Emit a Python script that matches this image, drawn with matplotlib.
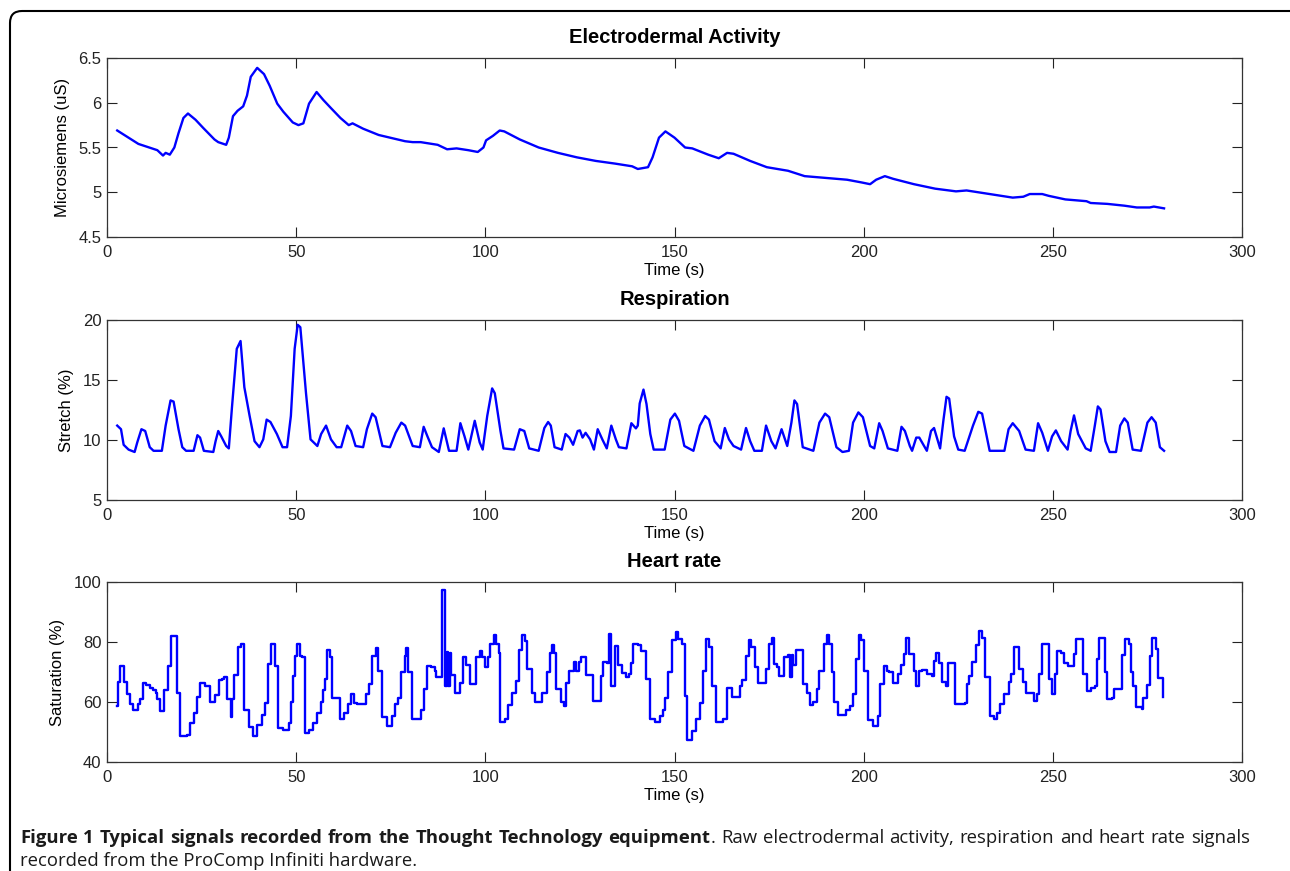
import matplotlib
matplotlib.use("Agg")
import matplotlib.pyplot as plt
from matplotlib.patches import FancyBboxPatch
from matplotlib.transforms import IdentityTransform

# ---- data ----
# electrodermal activity (uS)
eda_t = [2.7, 8.3, 13.3, 14.8, 15.5, 16.6, 17.8, 18.9, 20.2, 21.4, 23.4, 25.4, 28.4, 29.4,
         31.5, 32.2, 33.3, 34.5, 36.0, 37.0, 38.0, 39.7, 41.5, 43.0, 45.0, 46.6, 49.1, 50.6,
         51.9, 53.4, 55.4, 57.2, 59.2, 61.7, 63.9, 64.9, 67.7, 71.8, 74.8, 78.8, 80.8, 82.9,
         87.4, 89.9, 92.4, 95.5, 98.0, 99.5, 100.2, 102.0, 103.8, 105.0, 109.1, 114.1, 119.2,
         124.2, 129.2, 134.3, 138.8, 140.3, 143.0, 144.2, 145.9, 147.6, 150.0, 152.8, 154.7,
         158.9, 161.7, 163.9, 165.6, 170.0, 174.4, 180.0, 184.4, 190.0, 195.6, 199.4, 201.7,
         203.3, 205.6, 207.8, 213.3, 218.9, 224.4, 227.2, 233.3, 239.4, 242.2, 243.9, 247.2,
         248.9, 253.3, 258.9, 260.0, 264.4, 268.9, 272.2, 275.6, 276.7, 279.4]
eda_v = [5.69, 5.54, 5.47, 5.41, 5.44, 5.42, 5.50, 5.66, 5.83, 5.88, 5.81, 5.72, 5.59, 5.56,
         5.53, 5.61, 5.85, 5.91, 5.96, 6.08, 6.29, 6.39, 6.32, 6.19, 5.99, 5.90, 5.78, 5.75,
         5.77, 5.99, 6.12, 6.03, 5.94, 5.83, 5.75, 5.77, 5.71, 5.64, 5.61, 5.57, 5.56, 5.56,
         5.53, 5.48, 5.49, 5.47, 5.45, 5.50, 5.58, 5.63, 5.69, 5.68, 5.59, 5.50, 5.44,
         5.39, 5.35, 5.32, 5.29, 5.26, 5.28, 5.39, 5.61, 5.68, 5.61, 5.50, 5.49,
         5.42, 5.38, 5.44, 5.43, 5.35, 5.28, 5.24, 5.18, 5.16, 5.14, 5.11, 5.09,
         5.14, 5.18, 5.15, 5.09, 5.04, 5.01, 5.02, 4.98, 4.94, 4.95, 4.98, 4.98,
         4.96, 4.92, 4.90, 4.88, 4.87, 4.85, 4.83, 4.83, 4.84, 4.82]

# respiration (% stretch)
resp_t = [2.7, 3.7, 4.4, 5.7, 7.3, 8.0, 9.1, 10.1, 11.3, 12.3, 14.5, 15.5, 16.8, 17.6, 18.9,
          19.9, 20.9, 22.9, 23.9, 24.6, 25.6, 28.1, 28.7, 29.4, 30.2, 31.5, 32.2, 33.0, 34.3,
          35.3, 36.3, 37.7, 39.0, 40.3, 41.3, 42.2, 43.2, 44.9, 46.4, 47.6, 48.6, 49.6, 50.4,
          51.1, 52.6, 53.8, 55.6, 56.6, 57.9, 59.2, 60.7, 61.9, 63.5, 64.5, 65.7, 67.7, 68.7,
          70.1, 71.0, 72.8, 74.8, 76.3, 77.8, 78.8, 80.8, 82.7, 83.7, 84.7, 85.9, 87.7, 89.0,
          89.7, 90.4, 92.4, 93.4, 94.5, 95.5, 96.5, 97.2, 98.5, 99.3, 100.5, 101.8, 102.5,
          104.0, 104.8, 107.6, 109.1, 110.3, 111.6, 114.1, 115.6, 116.6, 117.3, 118.3, 120.2,
          121.2, 122.2, 123.2, 124.4, 125.0, 125.7, 126.5, 127.7, 128.7, 129.7, 131.0, 132.1,
          133.3, 134.5, 135.3, 137.3, 138.6, 139.8, 140.3, 140.8, 141.8, 142.6, 143.6, 144.5,
          147.4, 148.9, 150.1, 151.2, 152.6, 155.0, 156.7, 158.1, 159.1, 160.6, 162.2, 163.3,
          164.4, 165.6, 167.6, 168.9, 170.0, 171.1, 173.1, 174.2, 175.6, 176.7, 178.3, 179.8,
          180.9, 181.7, 182.4, 183.9, 186.7, 188.3, 189.8, 190.9, 192.8, 194.4, 196.1, 197.2,
          198.6, 199.8, 201.7, 202.8, 204.1, 205.0, 206.4, 208.9, 210.0, 210.9, 212.2, 212.8,
          213.9, 214.7, 216.7, 217.8, 218.6, 220.2, 221.1, 221.9, 222.6, 223.9, 225.0, 226.7,
          228.9, 230.3, 231.3, 233.3, 237.2, 238.3, 239.4, 241.1, 242.8, 245.0, 246.1, 247.2,
          248.7, 249.8, 250.8, 252.2, 253.9, 254.7, 255.6, 256.7, 258.7, 260.0, 261.1, 261.9,
          262.6, 263.9, 265.0, 266.7, 267.8, 268.9, 269.8, 271.1, 273.3, 275.0, 276.1, 277.2,
          278.3, 279.4]
resp_v = [11.2, 10.9, 9.6, 9.2, 9.0, 9.8, 10.9, 10.75, 9.4, 9.1, 9.1, 11.2, 13.3, 13.2, 10.9,
          9.4, 9.1, 9.1, 10.4, 10.2, 9.1, 9.0, 9.9, 10.75, 10.3, 9.5, 9.3, 12.6, 17.6,
          18.25, 14.4, 12.0, 9.9, 9.4, 10.05, 11.7, 11.5, 10.5, 9.4, 9.4, 12.0, 17.6, 19.6,
          19.4, 13.9, 10.05, 9.5, 10.5, 11.2, 10.05, 9.4, 9.4, 11.2, 10.75, 9.5, 9.4, 10.9,
          12.2, 11.9, 9.5, 9.4, 10.6, 11.45, 11.2, 9.5, 9.4, 11.1, 10.3, 9.4, 9.0, 10.97,
          10.05, 9.1, 9.1, 11.4, 10.3, 9.2, 10.6, 11.6, 9.8, 9.2, 12.0, 14.3, 13.9,
          10.75, 9.3, 9.2, 10.9, 10.75, 9.3, 9.1, 11.0, 11.5, 11.2, 9.4, 9.2,
          10.5, 10.2, 9.6, 10.75, 10.8, 10.2, 10.6, 10.05, 9.2, 10.9, 10.0, 9.3,
          11.2, 10.05, 9.4, 9.3, 11.4, 10.97, 11.2, 13.05, 14.2, 13.0, 10.5, 9.2,
          9.2, 11.7, 12.2, 11.6, 9.5, 9.1, 11.2, 12.0, 11.7, 9.9, 9.3, 11.0,
          10.05, 9.5, 9.2, 11.0, 9.9, 9.1, 9.1, 11.2, 9.9, 9.3, 10.9, 9.5,
          11.45, 13.3, 13.0, 9.4, 9.1, 11.45, 12.2, 11.9, 9.4, 9.0, 9.1, 11.45,
          12.3, 11.9, 9.5, 9.3, 11.4, 10.75, 9.3, 9.1, 11.1, 10.75, 9.5, 9.1,
          10.2, 10.2, 9.1, 10.75, 11.0, 9.3, 11.7, 13.6, 13.45, 10.3, 9.2, 9.1,
          11.2, 12.35, 12.2, 9.1, 9.1, 10.9, 11.4, 10.75, 9.2, 9.1, 11.4, 10.6,
          9.1, 10.3, 10.8, 9.9, 9.2, 10.75, 12.05, 10.5, 9.3, 9.1, 11.2, 12.8,
          12.55, 9.9, 9.0, 9.0, 11.2, 11.8, 11.45, 9.2, 9.1, 11.45, 11.9, 11.45,
          9.4, 9.1]

# heart rate (step levels, start time of each level)
hr_t = [2.7, 2.9, 3.4, 4.5, 5.2, 6.2, 6.8, 8.1, 8.6, 9.5, 10.3, 11.3, 12.1, 12.9, 13.3,
        14.1, 15.1, 16.1, 16.8, 18.5, 19.4, 21.2, 21.9, 22.9, 23.9, 24.6, 26.0, 27.1, 28.6,
        29.7, 30.4, 31.0, 31.7, 32.7, 33.1, 33.5, 34.5, 35.3, 36.3, 37.5, 38.5, 39.7, 41.0,
        41.8, 42.5, 43.3, 44.4, 45.3, 46.6, 48.1, 48.6, 49.1, 49.8, 50.1, 51.1, 51.6, 52.4,
        53.4, 54.4, 55.4, 56.5, 57.0, 57.5, 58.2, 59.0, 59.5, 61.7, 62.7, 63.7, 64.4, 65.2,
        66.2, 68.4, 69.3, 70.0, 71.0, 71.5, 72.8, 74.0, 75.3, 76.1, 77.0, 77.8, 78.8, 79.1,
        79.6, 80.6, 82.9, 83.9, 84.7, 85.7, 86.7, 86.9, 88.6, 89.4, 89.8, 90.2, 90.6, 91.0,
        92.1, 93.4, 94.0, 95.0, 96.0, 97.5, 98.5, 99.0, 100.0, 100.8, 101.2, 102.3, 102.8,
        103.5, 103.8, 105.2, 106.0, 107.1, 108.1, 108.9, 109.6, 110.4, 110.9, 112.4, 113.1,
        115.1, 116.4, 117.1, 117.6, 118.1, 118.6, 119.9, 120.7, 121.4, 122.2, 123.4, 123.9,
        124.7, 125.4, 126.7, 128.5, 130.5, 131.0, 132.1, 132.6, 133.2, 134.2, 135.0, 136.1,
        137.3, 138.1, 138.6, 139.1, 140.3, 141.1, 142.5, 143.5, 144.9, 146.2, 147.0, 147.4,
        148.4, 149.4, 150.4, 150.9, 151.9, 152.8, 153.3, 154.7, 155.6, 156.7, 157.6, 158.3,
        159.1, 160.0, 160.9, 162.8, 163.9, 165.3, 167.2, 167.8, 168.9, 169.7, 170.2, 171.3,
        172.0, 174.2, 175.0, 175.8, 176.4, 177.2, 177.6, 178.9, 180.0, 180.6, 181.1, 181.4,
        182.2, 183.3, 183.9, 185.0, 185.9, 186.7, 187.6, 188.3, 189.4, 190.2, 190.9, 191.7,
        192.2, 193.1, 195.3, 196.4, 197.2, 198.0, 198.7, 199.4, 200.0, 201.1, 202.4, 203.9,
        204.4, 205.3, 206.1, 206.7, 207.8, 209.1, 209.8, 210.6, 211.3, 212.0, 213.3, 213.9,
        214.7, 215.3, 216.7, 218.0, 218.7, 219.2, 220.0, 220.6, 221.7, 222.2, 224.2, 226.7,
        227.2, 227.8, 228.7, 229.8, 230.6, 231.3, 232.0, 233.3, 234.4, 235.3, 236.1, 237.2,
        238.3, 238.9, 239.8, 241.1, 242.0, 242.8, 245.0, 245.8, 246.4, 247.2, 248.9, 249.8,
        250.6, 251.1, 252.2, 253.0, 253.9, 255.6, 256.1, 258.1, 258.9, 260.0, 261.1, 261.7,
        262.2, 263.9, 264.4, 265.6, 266.1, 268.3, 269.1, 270.0, 270.6, 271.3, 272.0, 273.6,
        273.9, 274.8, 275.6, 276.1, 277.2, 277.4, 277.8, 279.0]
hr_v = [58.7, 66.7, 71.9, 66.7, 62.6, 59.2, 57.5, 59.5, 60.9, 66.3, 65.6, 64.8, 63.9, 63.1, 60.9,
        57.0, 64.0, 71.9, 81.9, 62.9, 48.8, 49.0, 53.0, 56.4, 61.8, 66.5, 65.4, 60.0, 62.2,
        67.3, 67.6, 68.4, 60.9, 55.0, 60.9, 69.0, 78.3, 79.4, 57.2, 51.7, 48.8, 52.2, 55.8,
        59.8, 72.7, 79.4, 72.1, 51.3, 50.8, 53.0, 60.0, 68.8, 75.5, 79.4, 75.5, 74.9, 49.7,
        50.8, 53.0, 56.4, 60.0, 64.0, 67.6, 77.5, 75.0, 61.5, 54.2, 56.4, 59.2, 62.6, 59.8,
        59.2, 62.6, 66.0, 75.5, 78.0, 70.4, 55.0, 52.1, 55.3, 59.2, 61.2, 70.1, 75.5, 78.0,
        69.9, 54.4, 57.5, 64.3, 72.1, 71.6, 70.4, 68.5, 97.4, 65.4, 76.6, 65.4, 76.4, 69.0,
        62.9, 66.3, 75.0, 72.4, 66.0, 75.0, 76.9, 75.0, 71.6, 75.0, 79.4, 82.5, 79.4,
        76.4, 53.4, 54.2, 58.9, 63.1, 67.1, 77.5, 82.2, 80.4, 71.0, 62.9, 60.0,
        62.9, 69.9, 76.4, 78.9, 76.4, 64.3, 60.0, 58.7, 66.5, 70.4, 73.3, 70.4,
        73.3, 75.0, 69.1, 60.3, 68.8, 73.5, 73.0, 82.8, 65.4, 78.7, 72.4, 69.7,
        68.2, 69.3, 73.0, 79.4, 78.9, 76.9, 67.6, 54.2, 53.4, 55.3, 57.5, 61.5,
        69.9, 80.6, 83.4, 81.1, 79.4, 62.0, 47.4, 50.2, 54.4, 59.8, 70.4, 81.1,
        78.3, 65.4, 53.3, 54.2, 64.8, 61.7, 65.4, 67.4, 75.3, 80.6, 78.3, 71.6,
        66.3, 71.0, 79.4, 81.3, 72.7, 71.6, 68.8, 75.0, 75.8, 68.2, 75.8, 72.4,
        77.5, 77.2, 66.0, 63.1, 58.9, 60.0, 64.3, 70.4, 79.4, 82.5, 79.4, 69.9,
        60.0, 55.8, 57.5, 58.7, 62.6, 74.4, 82.5, 80.6, 70.4, 53.9, 51.9, 55.5,
        66.0, 72.1, 70.4, 69.9, 66.5, 69.3, 72.4, 76.1, 81.3, 76.1, 70.4, 65.4,
        70.4, 70.7, 69.3, 68.8, 73.8, 76.4, 73.0, 66.7, 65.4, 73.0, 59.2, 59.8,
        66.0, 68.8, 73.3, 78.9, 83.6, 81.3, 68.2, 55.3, 54.2, 56.4, 59.2, 62.6,
        66.7, 69.3, 78.3, 71.0, 66.7, 63.1, 60.3, 62.6, 69.3, 79.4, 67.6, 62.6,
        69.3, 76.9, 76.4, 73.0, 71.9, 76.1, 81.1, 69.3, 63.7, 64.8, 65.4, 74.4,
        81.3, 69.9, 61.1, 61.5, 64.3, 75.7, 81.1, 79.4, 69.9, 65.4, 58.3, 57.8,
        61.5, 65.6, 75.3, 81.3, 81.1, 77.8, 67.9, 61.8]

titles = ["Electrodermal Activity", "Respiration", "Heart rate"]
ylabels = ["Microsiemens (uS)", "Stretch (%)", "Saturation (%)"]
ylims = [(4.5, 6.5), (5, 20), (40, 100)]
yticks = [[4.5, 5, 5.5, 6, 6.5], [5, 10, 15, 20], [40, 60, 80, 100]]
ytick_labels = [["4.5", "5", "5.5", "6", "6.5"], ["5", "10", "15", "20"],
                ["40", "60", "80", "100"]]
xticks = [0, 50, 100, 150, 200, 250, 300]

caption_bold = "Figure 1 Typical signals recorded from the Thought Technology equipment"
caption_rest1 = ". Raw electrodermal activity, respiration and heart rate signals"
caption_line2 = "recorded from the ProComp Infiniti hardware."

W, H = 1290, 871
plt.rcParams['font.family'] = ['Liberation Sans', 'DejaVu Sans']
fig = plt.figure(figsize=(W / 100, H / 100), dpi=100)

# axes positions (pixels from top): top, bottom
rows = [(58, 237), (320, 500), (582, 762)]
left_px, right_px = 107, 1242

axes = []
for i, (top, bot) in enumerate(rows):
    ax = fig.add_axes([left_px / W, 1 - bot / H, (right_px - left_px) / W, (bot - top) / H])
    axes.append(ax)

# EDA
axes[0].plot(eda_t, eda_v, color='#0000ff', lw=1.7)
# respiration
axes[1].plot(resp_t, resp_v, color='#0000ff', lw=1.7)
# heart rate (step signal)
axes[2].plot(hr_t, hr_v, color='#0000ff', lw=1.7, drawstyle='steps-post')

for i, ax in enumerate(axes):
    ax.set_xlim(0, 300)
    ax.set_ylim(*ylims[i])
    ax.set_xticks(xticks)
    ax.set_xticklabels([str(x) for x in xticks])
    ax.set_yticks(yticks[i])
    ax.set_yticklabels(ytick_labels[i])
    ax.tick_params(direction='in', length=7, width=0.8, top=True, right=True,
                   labelsize=12, colors='#222222')
    ax.tick_params(axis='x', pad=6)
    ax.tick_params(axis='y', pad=4)
    for s in ax.spines.values():
        s.set_color('#333333')
        s.set_linewidth(0.9)
    ax.set_title(titles[i], fontsize=14.5, fontweight='bold', pad=11)
    ax.set_xlabel("Time (s)", fontsize=12, labelpad=2)
    ax.set_ylabel(ylabels[i], fontsize=12, labelpad=6)

# outer frame with rounded corners
frame = FancyBboxPatch((10, -20), 1305, H - 11 + 20,
                       boxstyle="round,pad=0,rounding_size=12",
                       transform=IdentityTransform(), fill=False,
                       edgecolor='black', lw=1.5)
fig.add_artist(frame)

# caption, justified first line
cap_font = ['Open Sans', 'DejaVu Sans']
cap_size = 13.3
renderer = fig.canvas.get_renderer()

line1 = [(w, True) for w in caption_bold.split(' ')]
rest_words = caption_rest1.split(' ')
# "." sticks to the previous bold word
line1_groups = [[seg] for seg in line1]
line1_groups[-1].append((rest_words[0], False))
for w in rest_words[1:]:
    line1_groups.append([(w, False)])


def place_group(group, x, y):
    for txt, bold in group:
        t = fig.text(x / W, y, txt, fontsize=cap_size, family=cap_font,
                     fontweight='bold' if bold else 'normal', color='#1a1a1a',
                     va='baseline', ha='left')
        x += t.get_window_extent(renderer).width
    return x


def group_width(group):
    total = 0
    for txt, bold in group:
        t = fig.text(0, 0, txt, fontsize=cap_size, family=cap_font,
                     fontweight='bold' if bold else 'normal')
        total += t.get_window_extent(renderer).width
        t.remove()
    return total


x_start, x_end = 20, 1250
widths = [group_width(g) for g in line1_groups]
gap = (x_end - x_start - sum(widths)) / (len(line1_groups) - 1)
x = x_start
y1 = 1 - 843 / H
for g, w in zip(line1_groups, widths):
    place_group(g, x, y1)
    x += w + gap

fig.text(x_start / W, 1 - 866 / H, caption_line2, fontsize=cap_size, family=cap_font,
         color='#1a1a1a', va='baseline', ha='left')

fig.savefig("out.png", dpi=100)
